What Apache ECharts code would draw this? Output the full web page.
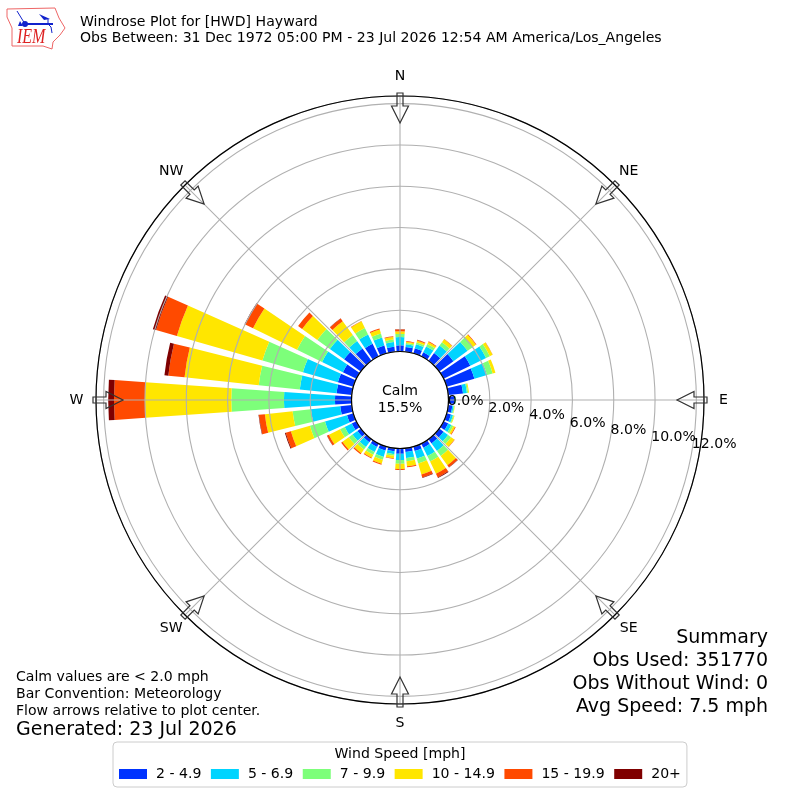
<!DOCTYPE html>
<html lang="en">
<head>
    <meta charset="UTF-8">
    <title>Windrose Plot</title>
    <script src="https://cdn.jsdelivr.net/npm/echarts@6/dist/echarts.min.js"></script>
    <style>
        html, body { margin: 0; padding: 0; background: #fff; }
        #chart { width: 800px; height: 800px; }
    </style>
</head>
<body>
<div id="chart"></div>
<script>
    // wind direction every 10 degrees, starting at north, going clockwise
    var directions = [0, 10, 20, 30, 40, 50, 60, 70, 80, 90, 100, 110, 120, 130, 140, 150, 160, 170,
        180, 190, 200, 210, 220, 230, 240, 250, 260, 270, 280, 290, 300, 310, 320, 330, 340, 350];

    // percent of obs per direction, one list per speed class
    var speed2to5 = [.30, .23, .26, .22, .46, .85, 1.44, 1.40, .72, .28, .20, .22, .25, .26, .25, .22, .22, .18,
        .26, .15, .20, .18, .18, .20, .25, .32, .56, .80, .74, .78, .73, 1.00, .74, .68, .40, .25];
    var speed5to7 = [.40, .13, .20, .32, .45, .85, .85, .64, .19, .05, .06, .10, .17, .27, .45, .45, .38, .30,
        .30, .14, .32, .27, .28, .30, .38, 1.11, 1.43, 2.47, 1.79, 1.76, 1.12, .85, .45, .50, .40, .22];
    var speed7to10 = [.15, .07, .09, .13, .20, .30, .20, .28, .06, .02, .04, .05, .10, .18, .30, .30, .25, .15,
        .18, .08, .14, .15, .16, .22, .25, .76, .89, 2.55, 2.00, 2.04, 1.35, .75, .35, .35, .20, .13];
    var speed10to15 = [.13, .06, .09, .11, .17, .20, .15, .14, .04, 0, .02, .03, .10, .20, .55, .65, .55, .25,
        .25, .12, .20, .16, .22, .38, .60, .96, 1.35, 4.18, 3.61, 4.31, 2.37, .91, .83, .36, .20, .12];
    var speed15to20 = [.09, .03, .04, .03, .02, .03, .01, 0, 0, 0, 0, 0, .03, .02, .12, .20, .15, .05,
        .05, .03, .05, .04, .06, .07, .10, .26, .29, 1.50, .79, 1.05, .42, .24, .16, .02, .05, .04];
    var speed20up = [.01, 0, .01, 0, 0, 0, 0, 0, 0, 0, 0, 0, 0, 0, .02, .03, .03, 0,
        0, 0, 0, 0, 0, 0, .01, .04, .02, .28, .19, .16, .04, 0, .01, 0, 0, 0];

    var speedNames = ['2 - 4.9', '5 - 6.9', '7 - 9.9', '10 - 14.9', '15 - 19.9', '20+'];
    var speedColors = ['#0033ff', '#00d4ff', '#7dff7a', '#ffe600', '#ff4a00', '#7f0000'];
    var speedData = [speed2to5, speed5to7, speed7to10, speed10to15, speed15to20, speed20up];

    var compassLabels = ['N', 'NE', 'E', 'SE', 'S', 'SW', 'W', 'NW'];
    var compassAngles = [0, 45, 90, 135, 180, 225, 270, 315];
    var radiusTicks = [0, 2, 4, 6, 8, 10, 12];
    var radiusMax = 12.37;

    var font = '"DejaVu Sans", sans-serif';
    var center = [400, 400];
    var radius = [48.5, 304];

    var series = speedData.map(function (values, i) {
        return {
            type: 'bar',
            name: speedNames[i],
            coordinateSystem: 'polar',
            polarIndex: 0,
            stack: 'wind',
            barWidth: '80%',
            silent: true,
            itemStyle: { color: speedColors[i] },
            data: values
        };
    });

    // outlined flow arrows and compass names, they sit on the grid polar
    series.push({
        type: 'custom',
        coordinateSystem: 'polar',
        polarIndex: 1,
        z: 6,
        silent: true,
        data: compassAngles.map(function (a) { return [radiusMax, a]; }),
        renderItem: function (params, api) {
            var p = api.coord([api.value(0), api.value(1)]);
            var a = api.value(1) * Math.PI / 180;
            var s = Math.sin(a), c = Math.cos(a);
            // local arrow: u goes inward from the rim, v goes across
            var shape = [[-3, -3], [10, -3], [10, -8.5], [27, 0], [10, 8.5], [10, 3], [-3, 3]];
            var points = shape.map(function (q) {
                return [p[0] - s * q[0] + c * q[1], p[1] + c * q[0] + s * q[1]];
            });
            return {
                type: 'group',
                children: [
                    {
                        type: 'polygon',
                        shape: { points: points },
                        style: { fill: 'rgba(255,255,255,0)', stroke: '#333', lineWidth: 1.2 }
                    },
                    {
                        type: 'text',
                        x: p[0] + s * 19.5,
                        y: p[1] - c * 19.5,
                        style: {
                            text: compassLabels[params.dataIndex], fill: '#000', font: '14.08px ' + font,
                            align: 'center', verticalAlign: 'middle'
                        }
                    }
                ]
            };
        }
    });

    function text(x, y, str, size, align) {
        return {
            type: 'text', x: x, y: y, z: 20,
            style: {
                text: str, fill: '#000', font: size + 'px ' + font,
                align: align || 'left', verticalAlign: 'middle'
            }
        };
    }

    var graphics = [
        text(80, 22.5, 'Windrose Plot for [HWD] Hayward', 14.08),
        text(80, 38.5, 'Obs Between: 31 Dec 1972 05:00 PM - 23 Jul 2026 12:54 AM America/Los_Angeles', 14.08),
        text(400, 391, 'Calm', 14.08, 'center'),
        text(400, 408, '15.5%', 14.08, 'center'),
        text(768, 638, 'Summary', 19, 'right'),
        text(768, 661, 'Obs Used: 351770', 19, 'right'),
        text(768, 684, 'Obs Without Wind: 0', 19, 'right'),
        text(768, 707, 'Avg Speed: 7.5 mph', 19, 'right'),
        text(16, 677, 'Calm values are < 2.0 mph', 14.08),
        text(16, 694.5, 'Bar Convention: Meteorology', 14.08),
        text(16, 711, 'Flow arrows relative to plot center.', 14.08),
        text(16, 730.5, 'Generated: 23 Jul 2026', 19),
        text(400, 754, 'Wind Speed [mph]', 14.08, 'center'),
        // IEM logo
        {
            type: 'polyline', z: 20,
            shape: { points: [[7, 9], [55, 8], [59, 18], [65, 28], [60, 35], [53, 42], [52, 49], [43, 46], [12, 46], [12, 28], [7, 17], [7, 9]] },
            style: { fill: 'none', stroke: '#e66', lineWidth: 1 }
        },
        {
            type: 'polyline', z: 20,
            shape: { points: [[25, 24], [53, 24]] },
            style: { fill: 'none', stroke: '#1122cc', lineWidth: 2 }
        },
        {
            type: 'polyline', z: 20,
            shape: { points: [[17, 11], [25, 24]] },
            style: { fill: 'none', stroke: '#1122cc', lineWidth: 1 }
        },
        {
            type: 'circle', z: 20,
            shape: { cx: 25, cy: 24, r: 3 },
            style: { fill: '#1122cc' }
        },
        {
            type: 'polygon', z: 20,
            shape: { points: [[39, 14], [50, 19], [44, 20]] },
            style: { fill: '#1122cc' }
        },
        {
            type: 'polygon', z: 20,
            shape: { points: [[20, 21], [23, 26], [18, 26]] },
            style: { fill: '#1122cc' }
        },
        {
            type: 'polyline', z: 20,
            shape: { points: [[48, 19], [48, 24], [51, 27], [52, 33]] },
            style: { fill: 'none', stroke: '#1122cc', lineWidth: 1 }
        },
        {
            type: 'text', x: 17, y: 38, z: 20, scaleX: 0.8,
            style: {
                text: 'IEM', fill: '#d22', font: 'italic 20px "Liberation Serif", serif',
                align: 'left', verticalAlign: 'middle'
            }
        }
    ];

    var myChart = echarts.init(document.getElementById('chart'), null, { renderer: 'canvas' });

    var option = {
        animation: false,
        backgroundColor: '#fff',
        textStyle: { fontFamily: font },
        polar: [
            { center: center, radius: radius },
            { center: center, radius: radius },
            { center: center, radius: radius }
        ],
        // polar 0 holds the bars, polar 1 the grid, polar 2 only the slanted percent labels
        angleAxis: [
            {
                polarIndex: 0, type: 'category', data: directions, startAngle: 95,
                axisLine: { show: false }, axisTick: { show: false }, axisLabel: { show: false },
                splitLine: { show: false }, splitArea: { show: false }
            },
            {
                polarIndex: 1, type: 'value', min: 0, max: 360, interval: 45, startAngle: 90, z: 5,
                axisLine: { show: true, lineStyle: { color: '#000', width: 1.2 } },
                axisTick: { show: false },
                axisLabel: { show: false },
                splitLine: { show: true, lineStyle: { color: '#b0b0b0', width: 1.1 } }
            },
            {
                polarIndex: 2, type: 'value', min: 0, max: 360, startAngle: -10,
                axisLine: { show: false }, axisTick: { show: false }, axisLabel: { show: false },
                splitLine: { show: false }
            }
        ],
        radiusAxis: [
            {
                polarIndex: 0, type: 'value', min: 0, max: radiusMax,
                axisLine: { show: false }, axisTick: { show: false }, axisLabel: { show: false },
                splitLine: { show: false }
            },
            {
                polarIndex: 1, type: 'value', min: 0, max: radiusMax, interval: 2, z: 5,
                axisLine: { show: false }, axisTick: { show: false }, axisLabel: { show: false },
                splitLine: { show: true, lineStyle: { color: '#b0b0b0', width: 1.1 } }
            },
            {
                polarIndex: 2, type: 'value', min: 0, max: radiusMax, interval: 2, z: 8,
                axisLine: { show: false }, axisTick: { show: false }, splitLine: { show: false },
                axisLabel: {
                    show: true, margin: 0, color: '#000', fontSize: 14.08, fontFamily: font,
                    align: 'left', verticalAlign: 'bottom', rotate: 0, hideOverlap: false,
                    showMinLabel: true, showMaxLabel: false,
                    formatter: function (v) {
                        return radiusTicks.indexOf(v) >= 0 ? v.toFixed(1) + '%' : '';
                    }
                }
            }
        ],
        legend: {
            data: speedNames, left: 113, top: 742, orient: 'horizontal',
            itemWidth: 28, itemHeight: 10, itemGap: 9.5,
            padding: [25, 6, 6, 6],
            borderColor: '#ccc', borderWidth: 1, borderRadius: 4,
            selectedMode: false, icon: 'rect',
            textStyle: { color: '#000', fontSize: 14.08, fontFamily: font, padding: [0, 0, 0, 4] }
        },
        graphic: { elements: graphics },
        series: series
    };
    myChart.setOption(option);
</script>
</body>
</html>
